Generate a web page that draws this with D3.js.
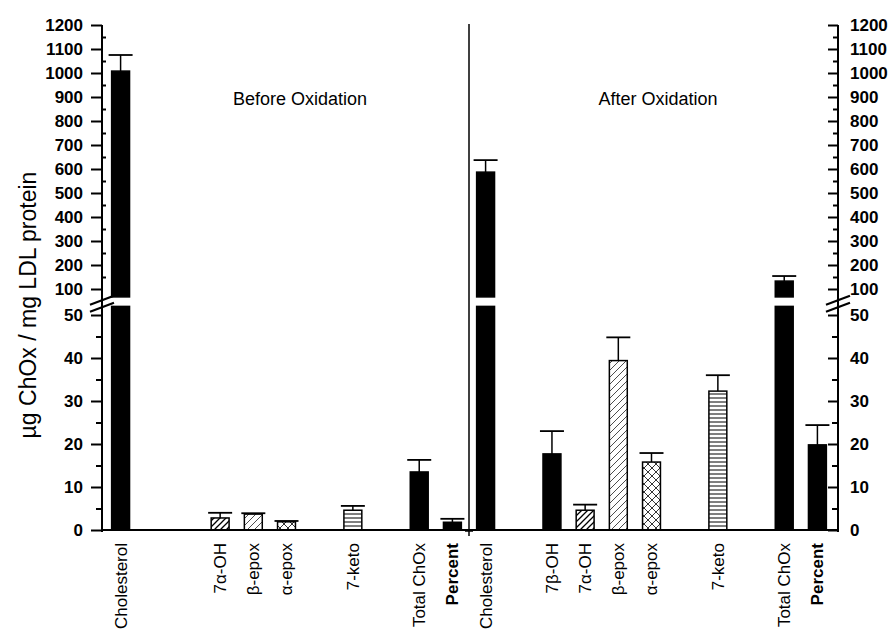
<!DOCTYPE html>
<html>
<head>
<meta charset="utf-8">
<script src="https://cdn.jsdelivr.net/npm/d3@7"></script>
<style>
  body { margin: 0; background: #fff; }
  text { font-family: "Liberation Sans", Arial, sans-serif; fill: #000; }
</style>
</head>
<body>
<script>

// chart values
var categories = ["Cholesterol", "7β-OH", "7α-OH", "β-epox", "α-epox", "7-keto", "Total ChOx", "Percent"];
var beforeMean = [1008, null, 2.8, 3.7, 1.9, 4.6, 13.5, 1.8];
var beforeErr  = [67,   null, 1.2, 0.2, 0.2, 1.0, 2.8,  0.8];
var afterMean  = [587, 17.7, 4.6, 39.4, 15.8, 32.3, 133, 19.8];
var afterErr   = [50,  5.3,  1.3, 5.4,  2.1,  3.7,  21,  4.6];
var fills = ["solid", "solid", "hatchBold", "hatchThin", "cross", "horiz", "solid", "solid"];
var boldLabel = ["Percent"];

var slots = ["Cholesterol", "gap-a", "7β-OH", "7α-OH", "β-epox", "α-epox", "gap-b", "7-keto", "gap-c", "Total ChOx", "Percent"];
var groupNames = ["Before", "After"];
var groupTitles = ["Before Oxidation", "After Oxidation"];

var upperTicks = [100, 200, 300, 400, 500, 600, 700, 800, 900, 1000, 1100, 1200];
var upperMinor = [150, 250, 350, 450, 550, 650, 750, 850, 950, 1050, 1150];
var lowerTicks = [0, 10, 20, 30, 40, 50];
var lowerMinor = [5, 15, 25, 35, 45];

var width = 889, height = 630;
var breakLow = 52, breakHigh = 67;

var svg = d3.select("body")
    .append("svg")
    .attr("width", width)
    .attr("height", height);

// patterns for the hatched bars
var defs = svg.append("defs");
function hatch(id, w, d, sw){
    defs.append("pattern")
        .attr("id", id)
        .attr("patternUnits", "userSpaceOnUse")
        .attr("width", w).attr("height", w)
      .append("path")
        .attr("d", d)
        .attr("stroke", "#000")
        .attr("stroke-width", sw)
        .attr("fill", "none");
}
hatch("hatchBold", 6, "M-1,1 l2,-2 M0,6 l6,-6 M5,7 l2,-2", 1.3);
hatch("hatchThin", 7, "M-1,1 l2,-2 M0,7 l7,-7 M6,8 l2,-2", 0.7);
hatch("cross", 8, "M-1,1 l2,-2 M0,8 l8,-8 M7,9 l2,-2 M-1,7 l2,2 M0,0 l8,8 M7,-1 l2,2", 0.8);
defs.append("pattern")
    .attr("id", "horiz")
    .attr("patternUnits", "userSpaceOnUse")
    .attr("width", 6).attr("height", 4)
  .append("line")
    .attr("x1", 0).attr("x2", 6)
    .attr("y1", 2).attr("y2", 2)
    .attr("stroke", "#000")
    .attr("stroke-width", 1);

// scales
var xDomain = [];
groupNames.forEach(g => slots.forEach(s => xDomain.push(g + "|" + s)));

var x = d3.scaleBand()
    .domain(xDomain)
    .range([104, 834])
    .paddingInner(0.46)
    .paddingOuter(0.23);

var yLow = d3.scaleLinear().domain([0, 50]).range([530, 315]);
var yHigh = d3.scaleLinear().domain([100, 1200]).range([289, 25]);

function yOf(v){ return v <= breakLow ? yLow(v) : yHigh(v); }

// axes
var axisFont = "17px";
function styleAxis(g){
    g.select(".domain").remove();
    g.selectAll(".tick line").attr("stroke", "#000").attr("stroke-width", 2);
    g.selectAll(".tick text")
        .style("font-size", axisFont)
        .style("font-weight", "bold");
}

[102, 838].forEach((ax, k) => {
    var isLeft = k === 0;
    var mk = isLeft ? d3.axisLeft : d3.axisRight;
    var size = isLeft ? 11 : -10;
    var pad = isLeft ? 8 : 12;
    var fmt = d3.format("d");

    svg.append("g").attr("transform", `translate(${ax},0)`)
        .call(mk(yHigh).tickValues(upperTicks).tickSize(size).tickPadding(pad).tickFormat(fmt))
        .call(styleAxis);
    svg.append("g").attr("transform", `translate(${ax},0)`)
        .call(mk(yLow).tickValues(lowerTicks).tickSize(size).tickPadding(pad).tickFormat(fmt))
        .call(styleAxis);
    svg.append("g").attr("transform", `translate(${ax},0)`)
        .call(mk(yHigh).tickValues(upperMinor).tickSize(isLeft ? -4 : -5).tickFormat(""))
        .call(styleAxis);
    svg.append("g").attr("transform", `translate(${ax},0)`)
        .call(mk(yLow).tickValues(lowerMinor).tickSize(isLeft ? 6 : -6).tickFormat(""))
        .call(styleAxis);

    svg.append("line")
        .attr("x1", ax).attr("x2", ax)
        .attr("y1", yHigh(1200)).attr("y2", yLow(0) + 2)
        .attr("stroke", "#000").attr("stroke-width", 2);

    // break marks
    [0, 7].forEach(off => {
        svg.append("line")
            .attr("x1", ax - 12).attr("y1", (yHigh(breakHigh) + yLow(breakLow)) / 2 + 3 + off)
            .attr("x2", ax + 12).attr("y2", (yHigh(breakHigh) + yLow(breakLow)) / 2 - 6 + off)
            .attr("stroke", "#000").attr("stroke-width", 2.2);
    });
});

// baseline
svg.append("line")
    .attr("x1", 102).attr("x2", 838)
    .attr("y1", yLow(0)).attr("y2", yLow(0))
    .attr("stroke", "#000").attr("stroke-width", 2);

// divider between before / after
var divX = (x("Before|Percent") + x.bandwidth() + x("After|Cholesterol")) / 2;
svg.append("line")
    .attr("x1", divX).attr("x2", divX)
    .attr("y1", 24).attr("y2", yLow(0) + 6)
    .attr("stroke", "#000").attr("stroke-width", 1.5);
svg.append("line")
    .attr("x1", divX - 4).attr("x2", divX + 4)
    .attr("y1", yLow(0) + 1).attr("y2", yLow(0) + 1)
    .attr("stroke", "#000").attr("stroke-width", 1.5);

// bars
var groups = [
    {name: "Before", mean: beforeMean, err: beforeErr},
    {name: "After", mean: afterMean, err: afterErr}
];

groups.forEach(grp => {
    categories.forEach((cat, i) => {
        var v = grp.mean[i];
        if (v == null) return;
        var bx = x(grp.name + "|" + cat);
        var bw = x.bandwidth();
        var fill = fills[i] === "solid" ? "#000" : `url(#${fills[i]})`;

        var segs = v <= breakLow
            ? [[yLow(v), yLow(0)]]
            : [[yLow(breakLow), yLow(0)], [yHigh(v), yHigh(breakHigh)]];

        segs.forEach(s => {
            svg.append("rect")
                .attr("x", bx).attr("y", s[0])
                .attr("width", bw).attr("height", s[1] - s[0])
                .attr("fill", fill)
                .attr("stroke", "#000")
                .attr("stroke-width", 1.5);
        });

        var top = v + grp.err[i];
        var cx = bx + bw / 2;
        svg.append("line")
            .attr("x1", cx).attr("x2", cx)
            .attr("y1", yOf(v)).attr("y2", yOf(top))
            .attr("stroke", "#000").attr("stroke-width", 1.5);
        svg.append("line")
            .attr("x1", cx - 12).attr("x2", cx + 12)
            .attr("y1", yOf(top)).attr("y2", yOf(top))
            .attr("stroke", "#000").attr("stroke-width", 1.8);

        // category label
        svg.append("text")
            .attr("transform", `translate(${cx},${yLow(0) + 13}) rotate(-90)`)
            .attr("dy", "0.35em")
            .attr("text-anchor", "end")
            .style("font-size", "17px")
            .style("font-weight", boldLabel.includes(cat) ? "bold" : "normal")
            .text(cat);
    });
});

// group titles
svg.append("text")
    .attr("x", 300).attr("y", 105)
    .attr("text-anchor", "middle")
    .style("font-size", "18px")
    .text(groupTitles[0]);
svg.append("text")
    .attr("x", 658).attr("y", 105)
    .attr("text-anchor", "middle")
    .style("font-size", "18px")
    .text(groupTitles[1]);

// y title
svg.append("text")
    .attr("transform", "translate(28,305) rotate(-90)")
    .attr("dy", "0.35em")
    .attr("text-anchor", "middle")
    .style("font-size", "23px")
    .text("µg ChOx / mg LDL protein");

</script>
</body>
</html>
